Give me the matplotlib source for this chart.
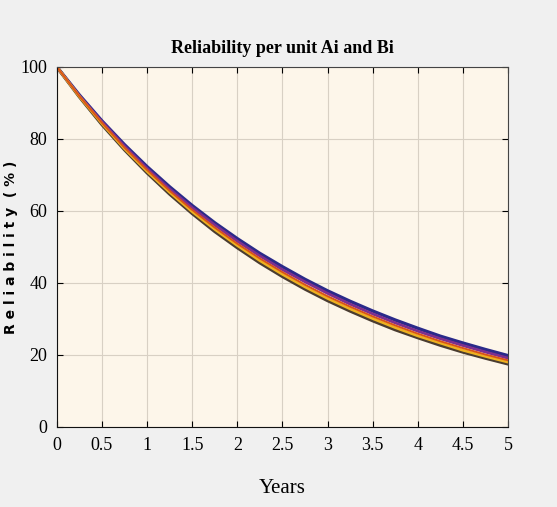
import numpy as np
import matplotlib.pyplot as plt

# Данные (надёжность, %)
years = [0, 0.25, 0.5, 0.75, 1, 1.25, 1.5, 1.75, 2, 2.25, 2.5,
         2.75, 3, 3.25, 3.5, 3.75, 4, 4.25, 4.5, 4.75, 5]

rel_1 = [100, 92.2, 85.0, 78.4, 72.3, 66.7, 61.5, 56.7, 52.3, 48.2, 44.5,
         41.0, 37.8, 34.9, 32.2, 29.7, 27.4, 25.2, 23.3, 21.5, 19.8]
rel_2 = [100, 92.0, 84.8, 78.0, 71.8, 66.1, 60.9, 56.1, 51.6, 47.5, 43.7,
         40.3, 37.1, 34.1, 31.4, 28.9, 26.6, 24.5, 22.6, 20.8, 19.1]
rel_3 = [100, 91.9, 84.5, 77.6, 71.4, 65.6, 60.3, 55.4, 50.9, 46.8, 43.0,
         39.5, 36.3, 33.4, 30.7, 28.2, 25.9, 23.8, 21.9, 20.1, 18.5]
rel_4 = [100, 91.8, 84.3, 77.3, 71.0, 65.2, 59.8, 54.9, 50.4, 46.2, 42.4,
         38.9, 35.7, 32.8, 30.1, 27.6, 25.3, 23.3, 21.3, 19.6, 18.0]
rel_5 = [100, 91.7, 84.0, 77.0, 70.6, 64.7, 59.3, 54.3, 49.8, 45.6, 41.8,
         38.3, 35.1, 32.2, 29.5, 27.0, 24.8, 22.7, 20.8, 19.1, 17.5]

x_ticks = [0, 0.5, 1, 1.5, 2, 2.5, 3, 3.5, 4, 4.5, 5]
x_tick_labels = ['0', '0.5', '1', '1.5', '2', '2.5', '3', '3.5', '4', '4.5', '5']
y_ticks = [0, 20, 40, 60, 80, 100]

fig = plt.figure(figsize=(5.57, 5.07), dpi=100, facecolor='#f0f0f0')
ax = fig.add_axes([0.102, 0.158, 0.81, 0.71])
ax.set_facecolor('#fdf6ea')

ax.plot(years, rel_5, color='#4a3c30', linewidth=2.4)
ax.plot(years, rel_1, color='#2a2a8a', linewidth=2.4)
ax.plot(years, rel_2, color='#7e2f8e', linewidth=2.0)
ax.plot(years, rel_4, color='#edb120', linewidth=2.0)
ax.plot(years, rel_3, color='#d95319', linewidth=1.4)

ax.set_xlim(0, 5)
ax.set_ylim(0, 100)
ax.set_xticks(x_ticks)
ax.set_xticklabels(x_tick_labels)
ax.set_yticks(y_ticks)
ax.grid(True, color='#d8d0c4', linewidth=0.8)
ax.tick_params(direction='in', top=True, right=True, length=4,
               labelsize=13, pad=7)
for lbl in ax.get_xticklabels() + ax.get_yticklabels():
    lbl.set_fontfamily('Liberation Serif')
for side in ['top', 'right']:
    ax.spines[side].set_color('#444444')
for side in ['bottom', 'left']:
    ax.spines[side].set_color('#111111')

ax.set_title('Reliability per unit Ai and Bi', fontfamily='Liberation Serif',
             fontweight='bold', fontsize=13, pad=10)
ax.set_xlabel('Years', fontfamily='Liberation Serif', fontsize=15)
ax.xaxis.set_label_coords(0.5, -0.145)
ax.set_ylabel('R e l i a b i l i t y  ( % )', fontfamily='DejaVu Sans',
              fontweight='bold', fontsize=10)
ax.yaxis.set_label_coords(-0.085, 0.5)

plt.savefig('out.png', dpi=100, facecolor=fig.get_facecolor())
